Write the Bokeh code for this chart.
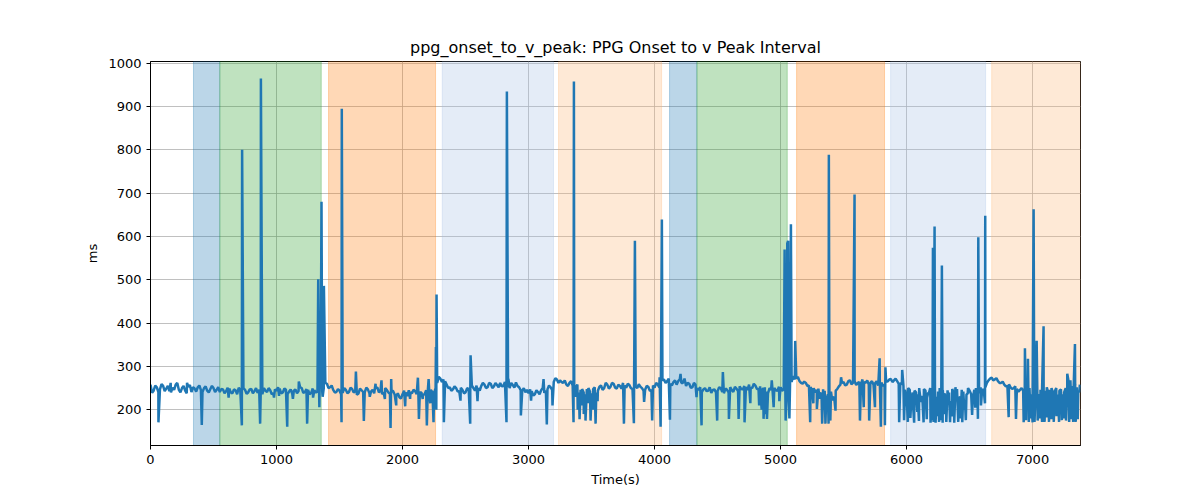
from bokeh.plotting import figure
from bokeh.models import ColumnDataSource, FixedTicker, Range1d
from bokeh.embed import file_html
from bokeh.resources import INLINE

# axis limits
x_lo, x_hi = 0, 7380
y_lo, y_hi = 117.5, 1004

# shaded phases (start/end in seconds)
band_start = [341, 550, 1413, 2315, 3238, 4119, 4336, 5127, 5873, 6675]
band_end = [550, 1355, 2262, 3198, 4056, 4336, 5053, 5825, 6627, 7380]
band_color = ["#1f77b4", "#2ca02c", "#ff7f0e", "#a5c0e4", "#fcb676",
              "#1f77b4", "#2ca02c", "#ff7f0e", "#a5c0e4", "#fcb676"]

# baseline interval, one value every 25 s starting at 0
sample_step = 25
base_ms = [
    258, 244, 252, 247, 255, 249, 243, 251, 258, 246, 250, 244, 253, 241, 249, 252, 246, 250, 244, 248,
    250, 246, 241, 247, 243, 249, 238, 245, 251, 242, 246, 240, 248, 243, 239, 246, 250, 241, 245, 238,
    244, 249, 240, 246, 242, 237, 247, 243, 250, 241, 246, 239, 245, 242, 248, 250, 260, 252, 246, 241,
    244, 239, 246, 241, 248, 243, 237, 245, 240, 247, 242, 238, 252, 244, 240, 246, 237, 243, 232, 229,
    236, 240, 245, 238, 243, 247, 240, 236, 242, 246, 239, 262, 272, 270, 258, 252, 247, 250, 243, 246,
    240, 248, 256, 244, 250, 255, 258, 252, 260, 254, 257, 262, 255, 259, 250, 257, 263, 252, 244, 240,
    238, 243, 236, 241, 245, 239, 247, 252, 264, 270, 268, 262, 258, 262, 256, 252, 240, 248, 236, 250,
    238, 252, 244, 256, 250, 258, 253, 260, 249, 255, 262, 251, 257, 248, 254, 259, 250, 246, 253, 245,
    251, 258, 262, 270, 266, 260, 264, 258, 270, 262, 255, 260, 252, 258, 246, 241, 250, 244, 239, 247,
    243, 250, 238, 246, 252, 241, 249, 254, 247, 252, 258, 250, 256, 248, 243, 252, 238, 246, 250, 244,
    252, 247, 255, 258, 278, 272, 266, 260, 262, 256, 246, 240, 249, 237, 244, 236, 242, 230, 248, 258,
    264, 258, 268, 262, 257, 264, 270, 262, 258, 266, 261, 256, 263, 258, 265, 271, 268, 266, 262, 255,
    232, 246, 215, 240, 250, 228, 244, 236, 210, 248, 242, 225, 238, 245, 220, 236, 248, 230, 242, 235,
    244, 226, 250, 238, 248, 252, 268, 274, 270, 266, 262, 258, 255, 252, 250, 248, 246, 244, 238, 250,
    240, 252, 236, 248, 244, 238, 250, 242, 235, 247, 240, 255, 268, 246, 252, 258,
]

# in-between beats, one value every 25 s starting at 12.5 s
mid_ms = [
    239, 256, 241, 259, 243, 255, 240, 246, 262, 240, 255, 238, 257, 252, 242, 256, 241, 254, 240, 255,
    241, 252, 248, 238, 251, 240, 247, 236, 246, 250, 237, 247, 238, 250, 246, 236, 244, 250, 236, 247,
    252, 238, 249, 236, 247, 244, 238, 252, 239, 248, 236, 249, 240, 251, 243, 262, 250, 256, 240, 248,
    236, 250, 238, 251, 240, 235, 249, 241, 251, 238, 246, 250, 240, 236, 250, 240, 245, 235, 238, 226,
    244, 232, 240, 246, 236, 240, 234, 245, 238, 240, 250, 276, 264, 266, 250, 244, 254, 242, 251, 238,
    250, 241, 250, 256, 244, 262, 250, 262, 250, 262, 252, 254, 264, 252, 262, 251, 255, 245, 250, 246,
    247, 233, 245, 236, 250, 244, 256, 246, 273, 262, 264, 268, 255, 266, 250, 258, 246, 240, 248, 242,
    248, 240, 253, 246, 262, 249, 262, 251, 258, 249, 256, 260, 250, 258, 250, 253, 244, 255, 244, 256,
    262, 252, 268, 262, 272, 256, 268, 266, 262, 272, 262, 251, 262, 249, 252, 247, 243, 252, 246, 240,
    252, 241, 249, 240, 246, 253, 243, 248, 255, 246, 251, 260, 248, 254, 250, 242, 250, 240, 245, 253,
    244, 256, 248, 264, 270, 276, 262, 265, 255, 252, 250, 246, 238, 247, 233, 245, 226, 244, 254, 262,
    256, 266, 259, 266, 262, 258, 264, 268, 262, 258, 266, 262, 255, 266, 270, 264, 272, 260, 258, 246,
    250, 225, 244, 236, 218, 248, 228, 250, 240, 230, 250, 244, 228, 240, 248, 252, 226, 246, 222, 250,
    236, 246, 230, 252, 244, 262, 272, 268, 273, 262, 265, 254, 259, 248, 254, 242, 250, 238, 246, 236,
    250, 240, 246, 238, 252, 246, 238, 250, 244, 236, 250, 262, 255, 258, 244,
]

# single-beat artefacts: spikes and dips (time s, interval ms)
event_t = [
    63, 160, 290, 407, 620, 725, 727, 870, 876, 980, 1020, 1085, 1130, 1177, 1243, 1290,
    1331, 1340, 1348, 1357, 1366, 1376, 1516, 1518, 1630, 1693, 1740, 1786, 1833, 1860,
    1905, 1910, 1950, 2021, 2060, 2122, 2130, 2160, 2193, 2207, 2220, 2246, 2265, 2268, 2270,
    2328, 2460, 2537, 2540, 2595, 2825, 2828, 2840, 2939, 3020, 3119, 3145, 3190,
    3357, 3360, 3372, 3390, 3405, 3420, 3438, 3452, 3470, 3492, 3510, 3532, 3548,
    3757, 3836, 3844, 3917, 3981, 4040, 4048, 4052, 4058, 4122, 4206, 4333, 4373,
    4497, 4542, 4590, 4667, 4714, 4760, 4830, 4850, 4865, 4878, 4892, 4930, 4945, 4990,
    5032, 5040, 5053, 5060, 5070, 5082, 5116, 5235, 5260, 5288, 5310, 5330, 5345, 5356,
    5370, 5381, 5383, 5395, 5410, 5436, 5480, 5587, 5630, 5660, 5703, 5749, 5786, 5796,
    5828, 5832, 5941, 5965, 5980, 5995, 6010, 6030, 6048, 6060, 6085, 6098, 6120, 6135,
    6160, 6172, 6190, 6205, 6209, 6214, 6222, 6230, 6245, 6258, 6270, 6280, 6286, 6300,
    6315, 6330, 6345, 6362, 6378, 6395, 6410, 6428, 6442, 6458, 6470, 6485, 6520, 6545,
    6566, 6569, 6590, 6622, 6624, 6810, 6868, 6929, 6939, 6948, 6963, 6970, 6985, 7000,
    7008, 7015, 7032, 7040, 7060, 7075, 7087, 7095, 7110, 7130, 7150, 7168, 7190, 7210,
    7232, 7250, 7265, 7275, 7290, 7310, 7322, 7336, 7342, 7358, 7370,
]
event_ms = [
    171, 262, 262, 165, 228, 164, 800, 168, 965, 228, 232, 161, 225, 265, 168, 228,
    501, 206, 382, 680, 230, 486, 171, 895, 288, 174, 230, 260, 268, 225,
    158, 271, 210, 208, 225, 274, 179, 225, 164, 271, 215, 171, 345, 200, 466,
    171, 221, 168, 326, 220, 171, 935, 271, 187, 221, 271, 166, 210,
    171, 958, 230, 200, 178, 210, 190, 175, 215, 175, 200, 168, 220,
    168, 169, 590, 218, 175, 275, 161, 339, 639, 177, 283, 229, 164,
    175, 287, 179, 179, 171, 215, 210, 200, 179, 190, 179, 268, 206, 220,
    570, 175, 584, 590, 180, 628, 359, 171, 215, 202, 225, 168, 200, 168,
    210, 168, 789, 175, 221, 198, 275, 697, 175, 206, 175, 206, 319, 161,
    164, 298, 171, 292, 176, 238, 172, 181, 240, 170, 195, 174, 232, 171,
    178, 240, 170, 176, 574, 172, 623, 170, 185, 172, 176, 533, 170, 190,
    172, 228, 171, 185, 170, 230, 172, 180, 171, 200, 176, 238, 188, 205,
    179, 598, 210, 215, 648, 183, 179, 171, 342, 176, 318, 172, 180, 171,
    663, 172, 359, 175, 180, 172, 393, 172, 182, 172, 178, 172, 185, 172,
    176, 180, 175, 283, 172, 178, 172, 352, 172, 178, 240,
]

base_t = [i * sample_step for i in range(len(base_ms))]
mid_t = [sample_step / 2 + i * sample_step for i in range(len(mid_ms))]
pts = sorted(zip(base_t + mid_t + event_t, base_ms + mid_ms + event_ms))
series = ColumnDataSource(data=dict(t=[a for a, _ in pts], ms=[b for _, b in pts]))
bands = ColumnDataSource(data=dict(left=band_start, right=band_end, color=band_color,
                                   bottom=[y_lo] * len(band_start), top=[y_hi] * len(band_start)))

p = figure(width=1192, height=492, x_range=Range1d(x_lo, x_hi), y_range=Range1d(y_lo, y_hi),
           title="ppg_onset_to_v_peak: PPG Onset to v Peak Interval",
           x_axis_label="Time(s)", y_axis_label="ms",
           output_backend="svg", toolbar_location=None,
           min_border_left=150, min_border_right=112, min_border_top=61, min_border_bottom=47)

p.quad(left="left", right="right", bottom="bottom", top="top", source=bands,
       fill_color="color", fill_alpha=0.3, line_color="color", line_alpha=0.3, line_width=1)
p.line("t", "ms", source=series, line_color="#1f77b4", line_width=2.5)

p.title.align = "center"
p.title.text_font = "DejaVu Sans"
p.title.text_font_size = "16px"
p.title.text_font_style = "normal"
p.title.text_color = "black"

p.xaxis.ticker = FixedTicker(ticks=[0, 1000, 2000, 3000, 4000, 5000, 6000, 7000])
p.yaxis.ticker = FixedTicker(ticks=[200, 300, 400, 500, 600, 700, 800, 900, 1000])
for ax in [p.xaxis[0], p.yaxis[0]]:
    ax.axis_label_text_font = "DejaVu Sans"
    ax.axis_label_text_font_size = "13px"
    ax.axis_label_text_font_style = "normal"
    ax.axis_label_text_color = "black"
    ax.major_label_text_font = "DejaVu Sans"
    ax.major_label_text_font_size = "13px"
    ax.major_label_text_color = "black"
    ax.axis_line_color = "black"
    ax.major_tick_line_color = "black"
    ax.major_tick_in = 0
    ax.major_tick_out = 4
    ax.minor_tick_line_color = None

p.grid.grid_line_color = "#b0b0b0"
p.grid.grid_line_width = 0.8
p.outline_line_color = "black"
p.outline_line_alpha = 1
p.background_fill_color = "white"
p.border_fill_color = "white"

open("out.html", "w").write(file_html(p, INLINE))
